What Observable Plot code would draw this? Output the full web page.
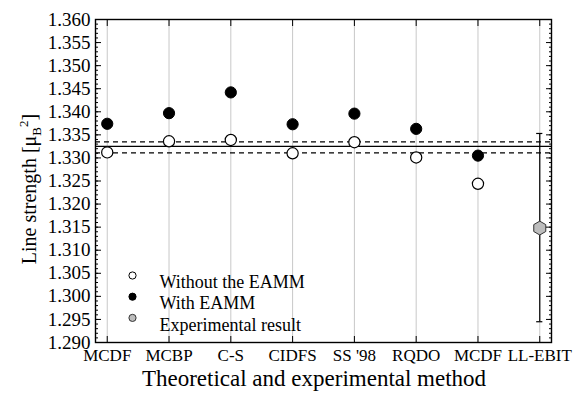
<!DOCTYPE html>
<html><head><meta charset="utf-8">
<script src="https://cdn.jsdelivr.net/npm/d3@7"></script>
<script src="https://cdn.jsdelivr.net/npm/@observablehq/plot@0.6"></script>
<style>body{margin:0;background:#fff}</style>
</head><body><div id="chart"></div>
<script>
// ---- data ----
const methods = ["MCDF", "MCBP", "C-S", "CIDFS", "SS '98", "RQDO", "MCDF", "LL-EBIT"];
const withoutEAMM = [1.3312, 1.3336, 1.3339, 1.3310, 1.3334, 1.3301, 1.3244];
const withEAMM = [1.3374, 1.3397, 1.3442, 1.3373, 1.3396, 1.3363, 1.3305];
const experimental = [1.3148];
const expLow = [1.2945];
const expHigh = [1.3353];
const refLine = [1.3325];
const refBand = [1.3311, 1.3335];
const yTickLabels = ["1.290","1.295","1.300","1.305","1.310","1.315","1.320","1.325","1.330","1.335","1.340","1.345","1.350","1.355","1.360"];
const legendLabels = ["Without the EAMM", "With EAMM", "Experimental result"];

const idx = methods.map((d, i) => i);
const majorTicks = yTickLabels.map(Number);
const minorTicks = d3.range(1290, 1361).map(d => d / 1000);
const theo = withoutEAMM.map((v, i) => ({i, v, w: withEAMM[i]}));
const expIdx = methods.length - 1;
const exp = experimental.map((v, k) => ({i: expIdx, v, lo: expLow[k], hi: expHigh[k]}));

const font = "'Liberation Serif', 'Times New Roman', serif";
const legendStyles = [
  {fill: "white", stroke: "black"},
  {fill: "black", stroke: "black"},
  {fill: "#bdbdbd", stroke: "#333"}
];

const legendMarks = legendLabels.flatMap((t, k) => [
  Plot.dot([t], {frameAnchor: "top-left", dx: 37, dy: 256 + k * 21.2, r: 3.6, fill: legendStyles[k].fill, stroke: legendStyles[k].stroke, strokeWidth: 1}),
  Plot.text([t], {text: d => d, frameAnchor: "top-left", dx: 64, dy: 256 + k * 21.2, textAnchor: "start", fontSize: 18, fill: "black"})
]);

const plot = Plot.plot({
  width: 573,
  height: 393,
  marginLeft: 95,
  marginRight: 22,
  marginTop: 19,
  marginBottom: 51,
  style: {fontFamily: font, fontSize: "17px", background: "white", color: "black"},
  x: {type: "linear", domain: [-0.19, 7.19], axis: null},
  y: {domain: [1.290, 1.360], axis: null},
  marks: [
    Plot.ruleX(idx, {x: d => d, stroke: "#c8c8c8", strokeWidth: 1}),
    Plot.ruleY(refLine, {stroke: "black", strokeWidth: 1.3}),
    Plot.ruleY(refBand, {stroke: "black", strokeWidth: 1.2, strokeDasharray: "5,4"}),
    Plot.ruleX(exp, {x: "i", y1: "lo", y2: "hi", stroke: "black", strokeWidth: 1.2}),
    Plot.ruleY(exp, {y: "lo", x1: d => d.i - 0.05, x2: d => d.i + 0.05, stroke: "black", strokeWidth: 1.2}),
    Plot.ruleY(exp, {y: "hi", x1: d => d.i - 0.05, x2: d => d.i + 0.05, stroke: "black", strokeWidth: 1.2}),
    Plot.dot(theo, {x: "i", y: "v", r: 5.6, fill: "white", stroke: "black", strokeWidth: 1.2}),
    Plot.dot(theo, {x: "i", y: "w", r: 5.6, fill: "black", stroke: "black", strokeWidth: 1}),
    Plot.dot(exp, {x: "i", y: "v", r: 6, symbol: "hexagon", fill: "#bdbdbd", stroke: "#333", strokeWidth: 1}),
    ...legendMarks,
    Plot.frame({stroke: "black", strokeWidth: 1.4}),
    Plot.axisY({ticks: majorTicks, tickSize: -6, tickPadding: 11, tickFormat: d => yTickLabels[majorTicks.indexOf(d)], fontSize: 19, label: null}),
    Plot.axisY({ticks: minorTicks, tickSize: -3, tickFormat: () => "", label: null}),
    Plot.axisY({anchor: "right", ticks: majorTicks, tickSize: -6, tickFormat: () => "", label: null}),
    Plot.axisY({anchor: "right", ticks: minorTicks, tickSize: -3, tickFormat: () => "", label: null}),
    Plot.axisX({ticks: idx, tickSize: -6, tickPadding: 12, tickFormat: i => methods[i], fontSize: 17, label: null}),
    Plot.axisX({anchor: "top", ticks: idx, tickSize: -6, tickFormat: () => "", label: null})
  ]
});

document.getElementById("chart").append(plot);

const svg = d3.select(plot);
// x axis title
svg.append("text")
  .attr("x", 314).attr("y", 386)
  .attr("text-anchor", "middle")
  .attr("font-family", font).attr("font-size", 23).attr("fill", "black")
  .text("Theoretical and experimental method");
// y axis title with sub/superscript
const yt = svg.append("text")
  .attr("transform", "translate(36,189) rotate(-90)")
  .attr("text-anchor", "middle")
  .attr("font-family", font).attr("font-size", 20).attr("fill", "black");
yt.append("tspan").text("Line strength [μ");
yt.append("tspan").attr("dy", 5).attr("font-size", 13).text("B");
yt.append("tspan").attr("dy", -13).attr("font-size", 13).text("2");
yt.append("tspan").attr("dy", 8).text("]");
</script>
</body></html>
